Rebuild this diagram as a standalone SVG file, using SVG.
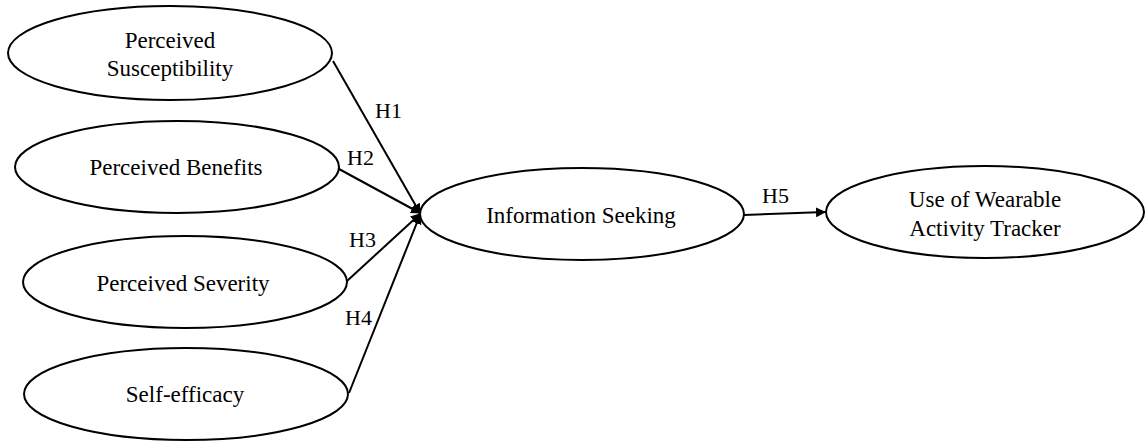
<svg xmlns="http://www.w3.org/2000/svg" width="1145" height="441" viewBox="0 0 1145 441">
  <style>
    .node { fill: #fff; stroke: #000; stroke-width: 2; }
    .lbl { font-family: "Liberation Serif", "Times New Roman", serif; font-size: 23px; fill: #000; text-anchor: middle; }
    .edge { stroke: #000; stroke-width: 2; fill: none; marker-end: url(#arrow); }
    .hyp { font-family: "Liberation Serif", "Times New Roman", serif; font-size: 22px; fill: #000; }
  </style>
  <defs>
    <marker id="arrow" viewBox="0 0 10 10" refX="9" refY="5" markerWidth="5" markerHeight="5" orient="auto" markerUnits="strokeWidth">
      <path d="M0,0 L10,5 L0,10 z" fill="#000"/>
    </marker>
  </defs>
  <rect width="1145" height="441" fill="#fff"/>

  <g id="connectors">
    <line class="edge" x1="333" y1="61" x2="420" y2="213"/>
    <line class="edge" x1="339" y1="169" x2="420" y2="213"/>
    <line class="edge" x1="347" y1="281" x2="420" y2="214"/>
    <line class="edge" x1="349" y1="393" x2="420" y2="215"/>
    <line class="edge" x1="744" y1="215" x2="825" y2="212"/>
    <text class="hyp" x="375" y="118">H1</text>
    <text class="hyp" x="347" y="165">H2</text>
    <text class="hyp" x="349" y="247">H3</text>
    <text class="hyp" x="345" y="325">H4</text>
    <text class="hyp" x="762" y="203">H5</text>
  </g>

  <g id="susceptibility">
    <ellipse class="node" cx="170" cy="53" rx="162" ry="47"/>
    <text class="lbl" x="170" y="48">Perceived</text>
    <text class="lbl" x="170" y="76">Susceptibility</text>
  </g>
  <g id="benefits">
    <ellipse class="node" cx="177" cy="167" rx="162" ry="46"/>
    <text class="lbl" x="176" y="175">Perceived Benefits</text>
  </g>
  <g id="severity">
    <ellipse class="node" cx="185" cy="282" rx="162" ry="46"/>
    <text class="lbl" x="183" y="291">Perceived Severity</text>
  </g>
  <g id="self-efficacy">
    <ellipse class="node" cx="186" cy="394" rx="162" ry="46"/>
    <text class="lbl" x="185" y="402">Self-efficacy</text>
  </g>
  <g id="information-seeking">
    <ellipse class="node" cx="582" cy="214" rx="162" ry="46"/>
    <text class="lbl" x="581" y="223">Information Seeking</text>
  </g>
  <g id="tracker-use">
    <ellipse class="node" cx="985" cy="212" rx="159" ry="46"/>
    <text class="lbl" x="985" y="207">Use of Wearable</text>
    <text class="lbl" x="985" y="236">Activity Tracker</text>
  </g>
</svg>
